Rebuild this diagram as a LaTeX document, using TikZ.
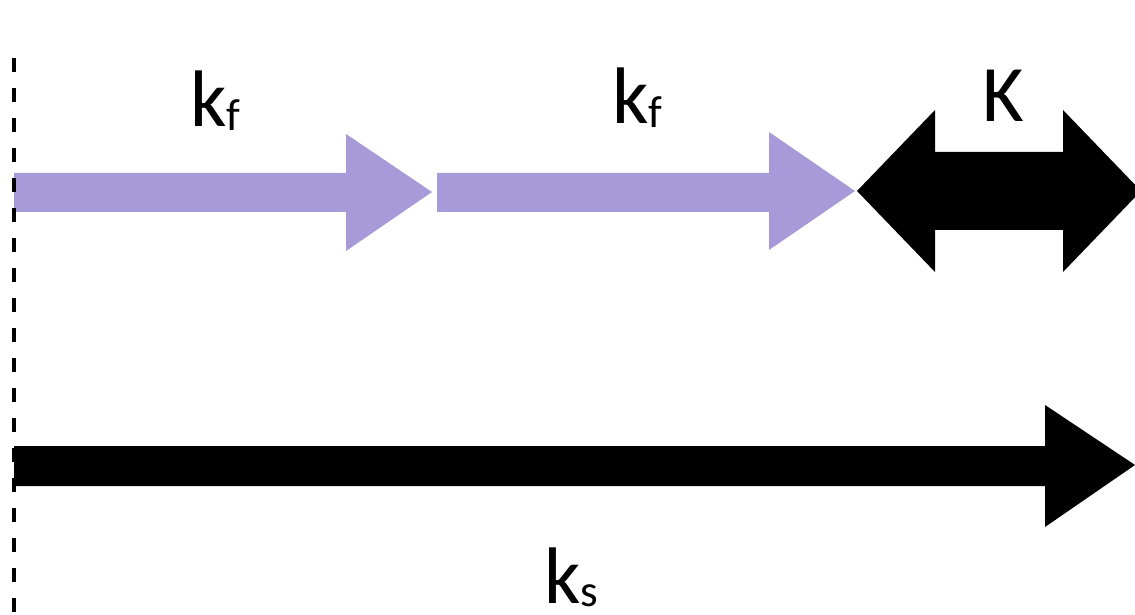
\documentclass[tikz,border=0pt]{standalone}
\usepackage{fontspec}
\setmainfont{Carlito}
\definecolor{lavender}{RGB}{166,154,216}
\newcommand{\ratelabel}[2]{#1\raisebox{-2.8pt}{\fontsize{32}{34}\selectfont #2}}

\begin{document}
\begin{tikzpicture}[x=0.025cm, y=-0.025cm,
    ratetext/.style={anchor=base west, inner sep=0pt, font=\fontsize{57}{62}\selectfont},
    slowarrow/.style={fill=lavender},
    fastarrow/.style={fill=black},
    wall/.style={line width=0.11cm, dash pattern=on 0.35cm off 0.4cm}]
    \clip (0,0) rectangle (1135,615);

    % two lavender steps
    \fill[slowarrow] (14,173) -- (346,173) -- (346,134) -- (432,192)
        -- (346,251) -- (346,212) -- (14,212) -- cycle;
    \fill[slowarrow] (437,173) -- (769,173) -- (769,132) -- (855,191)
        -- (769,250) -- (769,212) -- (437,212) -- cycle;

    % equilibrium
    \fill[fastarrow] (857,191) -- (935,110) -- (935,152) -- (1063,152)
        -- (1063,110) -- (1141,191) -- (1063,272) -- (1063,230)
        -- (935,230) -- (935,272) -- cycle;

    % long black arrow
    \fill[fastarrow] (14,446) -- (1045,446) -- (1045,405) -- (1135,465)
        -- (1045,527) -- (1045,486) -- (14,486) -- cycle;

    \draw[wall] (14,58) -- (14,615);

    \node[ratetext] (kf1) at (190,127) {\ratelabel{k}{f}};
    \node[ratetext] (kf2) at (612,124) {\ratelabel{k}{f}};
    \node[ratetext] (keq) at (982,122) {\ratelabel{K}{}};
    \node[ratetext] (ks) at (544,603) {\ratelabel{k}{s}};
\end{tikzpicture}
\end{document}
